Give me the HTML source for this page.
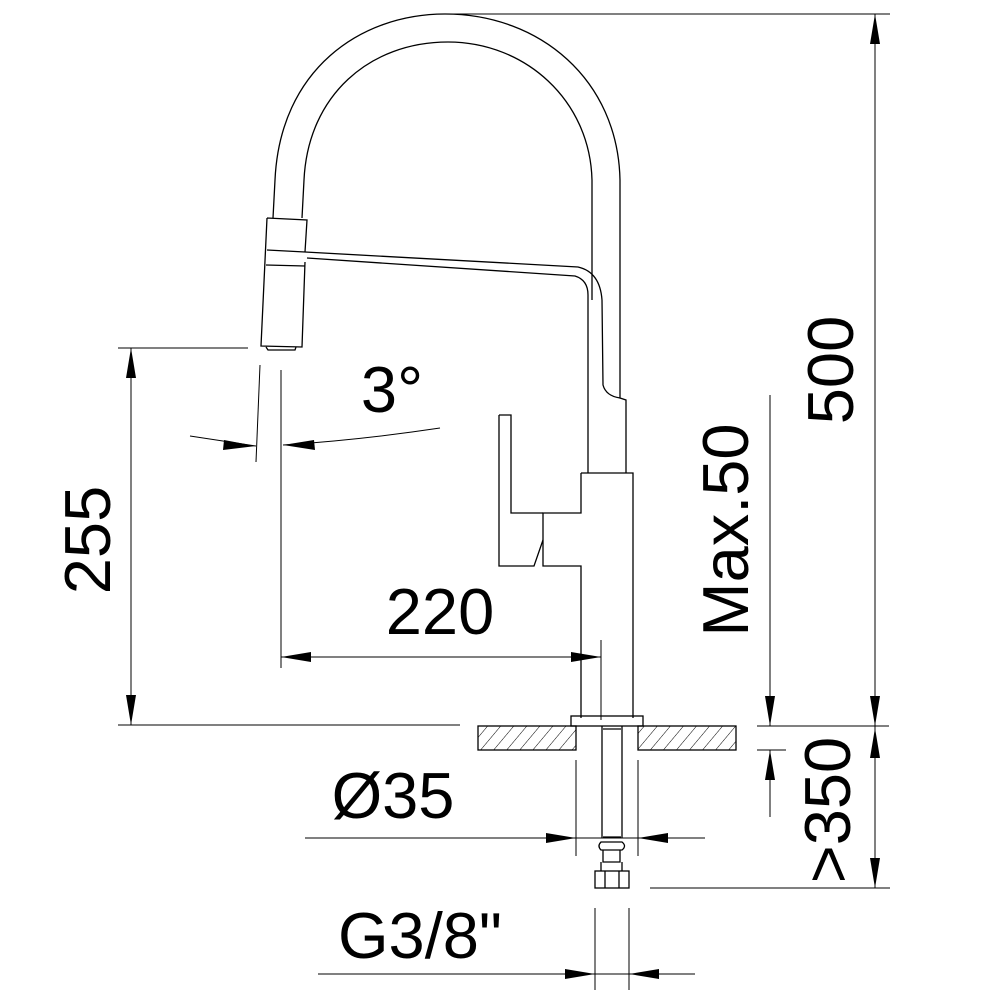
<!DOCTYPE html>
<html><head><meta charset="utf-8"><style>html,body{margin:0;padding:0;background:#fff}svg{display:block}</style></head><body>
<svg width="1000" height="1000" viewBox="0 0 1000 1000" xmlns="http://www.w3.org/2000/svg">
<defs>
<pattern id="h" width="10" height="10" patternUnits="userSpaceOnUse" patternTransform="rotate(40)"><line x1="0" y1="0" x2="0" y2="10" stroke="#000" stroke-width="1"/></pattern>
</defs>
<g fill="none" stroke="#000" stroke-width="1.3">
<path d="M273,218 L275,180 C280,70 360,14 445,14 C540,14 618,80 620,180 L620,398 L626,400 L626,473"/>
<path d="M302,218 L304,180 C308,95 370,42 448,42 C525,42 590,100 592,180 L592,300"/>
<path d="M305,252 L578,267 Q600,272 602,300 L603,385 Q606,396 620,398"/>
<path d="M307,258 L575,276 Q588,280 588,295 L588,473"/>
<path d="M267,218 L307,220 L305,252 M267,218 L261,346 L302,347 L305,262 M267,250 L305,252 M266,265 L305,266 M266,347 L268,350 L295,350 L296,347"/>
<path d="M581,473 L633,473 L633,718 M581,473 L581,513 L543,513 L543,566 L581,566 L581,718"/>
<path d="M499,415 L511,415 L511,513 L543,513 M499,415 L499,566 L534,566 L543,540"/>
<rect x="571" y="716" width="72" height="10"/>
<rect x="478" y="726" width="98" height="24" fill="url(#h)"/>
<rect x="638" y="726" width="98" height="24" fill="url(#h)"/>
<path d="M602,726 L602,838 M622,726 L622,838 M603,729 L621,729 M603,837 L621,837 M601,842 Q597,846 601,850 L622,850 Q627,846 622,842 Z M603,850 L603,862 L620,862 L620,850 M601,862 L601,871 M622,862 L622,871"/>
<rect x="595" y="871" width="34" height="17"/>
<path d="M605,871 L605,888 M619,871 L619,888"/>
</g>
<g stroke="#000" stroke-width="1" fill="none">
<line x1="118" y1="348" x2="248" y2="348"/>
<line x1="131" y1="348" x2="131" y2="725"/>
<line x1="118" y1="725" x2="460" y2="725"/>
<line x1="260" y1="365" x2="256" y2="462"/>
<line x1="281" y1="370" x2="281" y2="668"/>
<path d="M190,436 Q230,442 256,446 M283,445 Q360,440 440,428"/>
<line x1="281" y1="657" x2="601" y2="657"/>
<line x1="601" y1="640" x2="601" y2="720"/>
<line x1="445" y1="14" x2="890" y2="14"/>
<line x1="875" y1="14" x2="875" y2="888"/>
<line x1="757" y1="726" x2="889" y2="726"/>
<line x1="770" y1="395" x2="770" y2="726"/>
<line x1="770" y1="750" x2="770" y2="817"/>
<line x1="757" y1="750" x2="786" y2="750"/>
<line x1="650" y1="888" x2="890" y2="888"/>
<line x1="305" y1="838" x2="705" y2="838"/>
<line x1="576" y1="760" x2="576" y2="856"/>
<line x1="638" y1="760" x2="638" y2="856"/>
<line x1="595" y1="908" x2="595" y2="990"/>
<line x1="629" y1="908" x2="629" y2="990"/>
<line x1="318" y1="974" x2="695" y2="974"/>
</g>
<g fill="#000">
<polygon points="131,348 126,378 136,378"/>
<polygon points="131,725 126,695 136,695"/>
<polygon points="256,446 224,440 223,450"/>
<polygon points="283,445 314,440 315,450"/>
<polygon points="281,657 311,652 311,662"/>
<polygon points="601,657 571,652 571,662"/>
<polygon points="875,14 870,44 880,44"/>
<polygon points="875,726 870,696 880,696"/>
<polygon points="875,728 870,758 880,758"/>
<polygon points="875,888 870,858 880,858"/>
<polygon points="770,726 765,696 775,696"/>
<polygon points="770,750 765,780 775,780"/>
<polygon points="576,838 546,833 546,843"/>
<polygon points="638,838 668,833 668,843"/>
<polygon points="595,974 565,969 565,979"/>
<polygon points="629,974 659,969 659,979"/>
</g>
<g font-family="Liberation Sans, sans-serif" font-size="65" fill="#000" text-anchor="middle">
<text x="392" y="412">3°</text>
<text x="440" y="634">220</text>
<text x="393" y="818">Ø35</text>
<text x="420" y="958">G3/8"</text>
<text transform="translate(110,540) rotate(-90)">255</text>
<text transform="translate(853,370) rotate(-90)">500</text>
<text transform="translate(748,530) rotate(-90)">Max.50</text>
<text transform="translate(850,810) rotate(-90)">&gt;350</text>
</g>
</svg>
</body></html>
